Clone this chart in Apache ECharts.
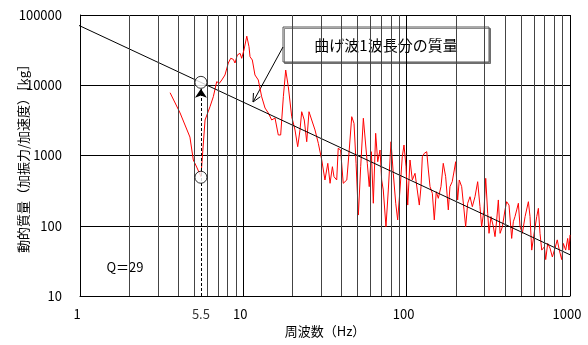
<!DOCTYPE html>
<html>
<head>
<meta charset="utf-8">
<script src="https://cdn.jsdelivr.net/npm/echarts@6/dist/echarts.min.js"></script>
<style>
  html, body { margin: 0; padding: 0; background: #fff; }
  #chart { width: 588px; height: 345px; }
</style>
</head>
<body>
<div id="chart"></div>
<script>
// measured spectrum (frequency in Hz, dynamic mass in kg)
const freqHz = [
  3.56, 4.10, 4.71, 4.94, 5.18, 5.5, 5.83, 6.25, 6.55, 6.87,
  7.13, 7.38, 7.72, 8.09, 8.37, 8.68, 8.89, 9.19, 9.55, 9.77,
  10.09, 10.5, 10.83, 10.99, 11.35, 11.78, 12.35, 12.95, 13.58, 14.22,
  14.92, 15.63, 16.37, 16.93, 17.58, 18.17, 18.85, 19.78, 20.72, 21.52,
  22.23, 22.77, 23.61, 24.44, 25.24, 26.22, 27.47, 28.78, 30.2, 31.6,
  32.9, 33.96, 35.1, 35.9, 37.3, 38.1, 39.4, 40.9, 43.0, 44.5,
  46.1, 47.6, 49.0, 50.6, 52.3, 54.3, 55.6, 57.4, 59.0, 60.8,
  62.5, 64.6, 66.5, 68.7, 70.3, 71.9, 74.7, 77.2, 80.2, 82.8,
  85.7, 88.1, 91.0, 94.0, 96.3, 99.1, 101.5, 104.8, 108.3, 112.5,
  116.1, 119.5, 122.4, 124.7, 128.3, 132.7, 135.8, 139.0, 143.6, 147.6,
  151.8, 156.2, 162.2, 167.5, 173.3, 179.9, 184.1, 190.1, 195.7, 199.5,
  205.2, 209.9, 217.2, 224.4, 229.7, 236.4, 244.3, 252.4, 262.0, 272.1,
  281.1, 287.7, 297.6, 304.8, 313.4, 319.3, 328.3, 339.5, 347.5, 355.8,
  364.1, 373.2, 385.5, 400.0, 409.5, 423.2, 439.5, 449.8, 460.5, 471.7,
  482.9, 494.5, 510.6, 530.9, 556.1, 569.2, 583.0, 605.0, 625.7, 640.4,
  655.2, 671.2, 696.6, 710.1, 730.1, 754.5, 779.7, 809.6, 835.6, 860.1,
  889.5, 910.3, 941.2, 968.0, 986.3, 1000
];
const massKg = [
  7830, 4030, 1830, 863, 685, 500, 3200, 4950, 6870, 11240,
  10660, 11880, 14000, 20730, 24190, 23400, 20730, 26960, 28500, 24190,
  31770, 50000, 35400, 25500, 22870, 14000, 11880, 6870, 4740, 4030,
  3200, 3420, 1960, 1960, 6870, 16480, 9530, 3570, 2310, 1335,
  2310, 4200, 3200, 1570, 4200, 3200, 2310, 1490, 863, 448,
  774, 402, 693, 499, 448, 1265, 1197, 402, 448, 1197,
  3570, 2870, 774, 142, 693, 3390, 3570, 774, 360, 1132,
  209, 2070, 816, 1197, 448, 323, 97, 323, 1570, 558,
  209, 121, 323, 961, 1410, 693, 197, 863, 448, 558,
  323, 197, 360, 961, 1074, 1132, 622, 360, 290, 121,
  305, 246, 360, 774, 499, 168, 360, 424, 622, 816,
  233, 448, 360, 168, 97, 209, 259, 187, 259, 424,
  187, 97, 168, 473, 150, 78, 135, 97, 70, 121,
  233, 78, 97, 168, 220, 197, 66, 114, 135, 168,
  209, 97, 78, 135, 220, 135, 45, 82, 135, 177,
  78, 45, 50, 33, 56, 48, 36, 48, 63, 45,
  33, 56, 45, 66, 45, 74
];

// mass of one bending wavelength (straight line on log-log)
const waveFreq = [0.972, 1073];
const waveMass = [72100, 35.8];

// Q=29 marker at 5.5 Hz
const peakFreq = 5.5;
const peakMass = [11000, 490];
const arrowTopMass = 8900;

// minor vertical grid lines 2..9 per decade
const minorX = [2, 3, 4, 5, 6, 7, 8, 9, 20, 30, 40, 50, 60, 70, 80, 90,
  200, 300, 400, 500, 600, 700, 800, 900];

const FONT = '"Noto Sans CJK JP", "Noto Sans", sans-serif';

const chart = echarts.init(document.getElementById('chart'));

// leader-line arrow for the callout box
const tail = [283, 47], tip = [253, 102];
const ang = Math.atan2(tail[1] - tip[1], tail[0] - tip[0]);
const wing = (a) => [tip[0] + 9 * Math.cos(ang + a), tip[1] + 9 * Math.sin(ang + a)];

const plain = (v) => String(Math.round(v));

const option = {
  animation: false,
  textStyle: { fontFamily: FONT },
  grid: { left: 80, top: 15, right: 18, bottom: 49, outerBoundsMode: 'none', containLabel: false },
  xAxis: {
    type: 'log',
    logBase: 10,
    min: 1,
    max: 1000,
    name: '周波数（Hz）',
    nameLocation: 'middle',
    nameGap: 29,
    nameMoveOverlap: false,
    nameTextStyle: { fontSize: 13, color: '#000', fontFamily: FONT },
    axisLine: { lineStyle: { color: '#000', width: 1 } },
    axisTick: { show: false },
    axisLabel: { fontSize: 13, color: '#000', margin: 12, fontFamily: FONT, formatter: plain, padding: [0, 6, 0, 0] },
    splitLine: { show: true, lineStyle: { color: '#000', width: 1 } }
  },
  yAxis: {
    type: 'log',
    logBase: 10,
    min: 10,
    max: 100000,
    name: '動的質量（加振力/加速度）［kg］',
    nameLocation: 'middle',
    nameGap: 50,
    nameRotate: 90,
    nameMoveOverlap: false,
    nameTextStyle: { fontSize: 13, color: '#000', fontFamily: FONT },
    axisLine: { lineStyle: { color: '#000', width: 1 } },
    axisTick: { show: false },
    axisLabel: { fontSize: 13, color: '#000', margin: 18, fontFamily: FONT, formatter: plain },
    splitLine: { show: true, lineStyle: { color: '#000', width: 1 } }
  },
  series: [
    {
      name: 'minor-grid',
      type: 'line',
      data: [],
      z: 1,
      silent: true,
      markLine: {
        silent: true,
        symbol: ['none', 'none'],
        label: { show: false },
        lineStyle: { color: '#444', width: 1, type: 'solid' },
        data: minorX.map(v => ({ xAxis: v }))
      }
    },
    {
      name: 'spectrum',
      type: 'line',
      data: freqHz.map((f, i) => [f, massKg[i]]),
      showSymbol: false,
      symbol: 'none',
      z: 3,
      lineStyle: { color: '#ff0000', width: 1 }
    },
    {
      name: 'bending-wave',
      type: 'line',
      data: waveFreq.map((f, i) => [f, waveMass[i]]),
      symbol: 'none',
      clip: false,
      z: 4,
      lineStyle: { color: '#000', width: 1 }
    },
    {
      name: 'arrow',
      type: 'line',
      data: [],
      z: 5,
      markLine: {
        silent: true,
        symbol: ['none', 'arrow'],
        symbolSize: 9,
        label: { show: false },
        lineStyle: { color: '#000', width: 1, type: [3, 2] },
        data: [[{ coord: [peakFreq, 10] }, { coord: [peakFreq, arrowTopMass] }]]
      }
    },
    {
      name: 'circles',
      type: 'scatter',
      data: peakMass.map(m => [peakFreq, m]),
      symbol: 'circle',
      symbolSize: 12,
      z: 6,
      itemStyle: { color: '#fff', borderColor: '#000', borderWidth: 1 }
    },
    {
      name: 'peak-label',
      type: 'scatter',
      data: [[peakFreq, 10]],
      symbolSize: 0,
      clip: false,
      z: 6,
      label: {
        show: true,
        position: 'bottom',
        distance: 12,
        formatter: '5.5',
        fontSize: 13,
        color: '#000',
        fontFamily: FONT
      }
    }
  ],
  graphic: [
    {
      type: 'group',
      z: 100,
      children: [
        { type: 'rect', shape: { x: 99, y: 250, width: 63, height: 33 }, style: { fill: '#fff' } },
        {
          type: 'text', x: 125, y: 267,
          style: { text: 'Q＝29', font: '13px ' + FONT, fill: '#000', textAlign: 'center', textVerticalAlign: 'middle' }
        }
      ]
    },
    {
      type: 'group',
      z: 100,
      children: [
        {
          type: 'rect',
          shape: { x: 283, y: 27, width: 206, height: 35 },
          style: { fill: '#fff', stroke: '#555', lineWidth: 1, shadowColor: 'rgba(0,0,0,0.45)', shadowOffsetX: 1.5, shadowOffsetY: 1.5 }
        },
        {
          type: 'text', x: 386, y: 45,
          style: { text: '曲げ波1波長分の質量', font: '15px ' + FONT, fill: '#000', textAlign: 'center', textVerticalAlign: 'middle' }
        },
        { type: 'line', shape: { x1: tail[0], y1: tail[1], x2: tip[0], y2: tip[1] }, style: { stroke: '#000', lineWidth: 1 } },
        {
          type: 'polyline',
          shape: { points: [wing(0.45), tip, wing(-0.45)] },
          style: { stroke: '#000', lineWidth: 1, fill: null }
        }
      ]
    }
  ]
};

chart.setOption(option);
</script>
</body>
</html>
